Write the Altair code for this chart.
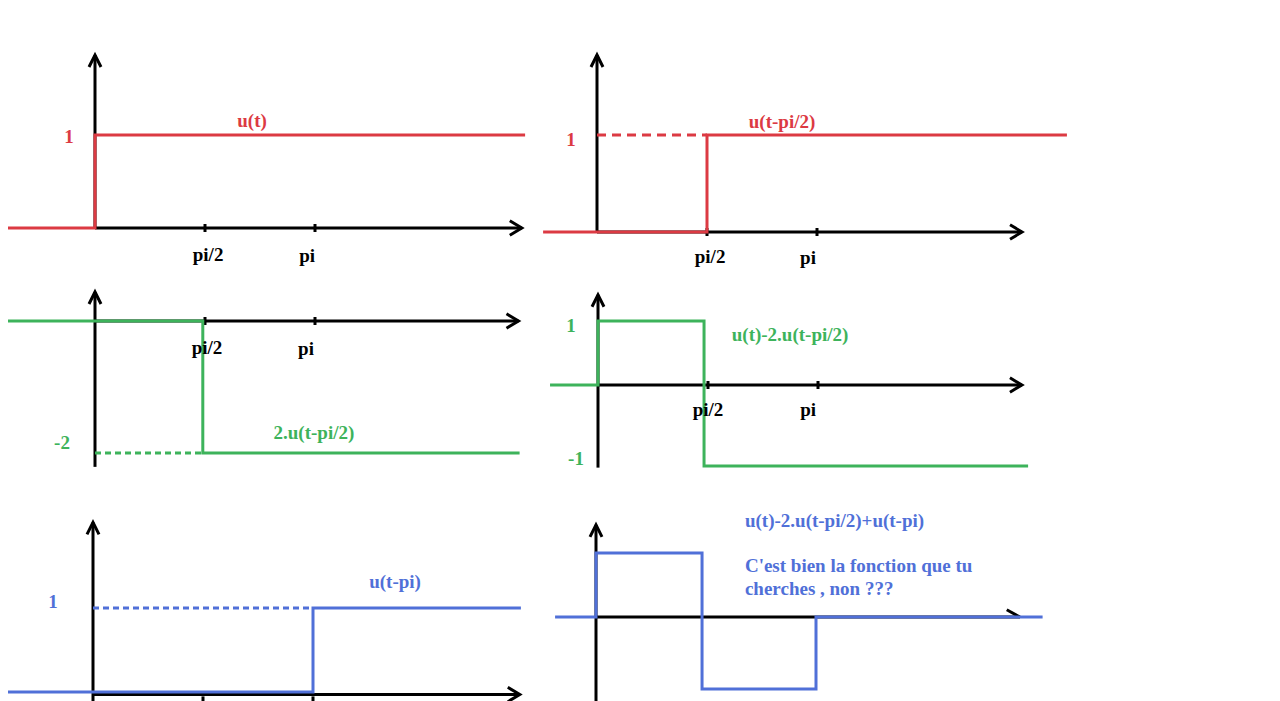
import altair as alt
import pandas as pd

# ---------------- data (t in units of pi, u = signal value) ----------------
RED, GREEN, BLUE, BLACK = "#dc3a43", "#3db35b", "#5070d8", "#000000"

# panel 1 : u(t)
P1_T = [-0.45, 0.0, 0.0, 1.955]
P1_U = [0, 0, 1, 1]
# panel 2 : u(t-pi/2)
P2_T = [-0.245, 0.5, 0.5, 2.136]
P2_U = [0, 0, 1, 1]
P2_DASH_T = [0.0, 0.5]
P2_DASH_U = [1, 1]
# panel 3 : 2.u(t-pi/2) (drawn negative)
P3_T = [-0.45, 0.49, 0.49, 1.93]
P3_U = [0, 0, -2, -2]
P3_DASH_T = [0.0, 0.49]
P3_DASH_U = [-2, -2]
# panel 4 : u(t)-2.u(t-pi/2)
P4_T = [-0.218, 0.0, 0.0, 0.482, 0.482, 1.955]
P4_U = [0, 0, 1, 1, -1, -1]
# panel 5 : u(t-pi)
P5_T = [-0.45, 1.0, 1.0, 1.945]
P5_U = [0, 0, 1, 1]
P5_DASH_T = [0.0, 0.99]
P5_DASH_U = [1, 1]
# panel 6 : u(t)-2.u(t-pi/2)+u(t-pi)
P6_T = [-0.186, 0.0, 0.0, 0.482, 0.482, 1.0, 1.0, 2.03]
P6_U = [0, 0, 1, 1, -1, -1, 0, 0]

TICK_T = [0.5, 1.0]
TICK_LABELS = ["pi/2", "pi"]

# axis extents per panel: (x tip t, y bottom u, y tip u, x-axis u)
AXES = {
    1: (1.94, 0.0, 1.86, 0.0),
    2: (1.932, 0.0, 1.825, 0.0),
    3: (1.925, -2.21, 0.44, 0.0),
    4: (1.927, -1.02, 1.41, 0.0),
    5: (1.94, -0.2, 2.02, -0.03),
    6: (1.927, -1.3, 1.44, 0.0),
}

# ---------------- layout (pixel anchors, not data) ----------------
KX = 220  # px per pi
W_LEFT, W_RIGHT = 532, 700
ROW_H = [267, 215, 211]
# panel: (width, height, x0 px, y0 px, px per unit up, px per unit down)
GEOM = {
    1: (W_LEFT, ROW_H[0], 87, 220, 93, 93),
    2: (W_RIGHT, ROW_H[0], 57, 224, 97, 97),
    3: (W_LEFT, ROW_H[1], 87, 46, 66, 66),
    4: (W_RIGHT, ROW_H[1], 58, 110, 64, 81),
    5: (W_LEFT, ROW_H[2], 85, 202, 84, 84),
    6: (W_RIGHT, ROW_H[2], 56, 127, 64, 72),
}

FONT = "Liberation Serif"
FS = 19
UP_ARROW = "M -0.5 1 L 0 0 L 0.5 1"
RIGHT_ARROW = "M -1 -0.6 L 0 0 L -1 0.6"
HALF_RIGHT_ARROW = "M -1.1 -0.6 L 0 0"
TICK = "M 0 -1 L 0 1"


def scales(p):
    w, h, x0, y0, kup, kdn = GEOM[p]
    xs = alt.Scale(domain=[-x0 / KX, (w - x0) / KX], nice=False, zero=False)
    ys = alt.Scale(domain=[-(h - y0) / kdn, 0, y0 / kup], range=[h, y0, 0],
                   nice=False, zero=False)
    return xs, ys


def enc(xs, ys):
    return dict(x=alt.X("t:Q", scale=xs, axis=None),
                y=alt.Y("u:Q", scale=ys, axis=None))


def line(p, t, u, color, dash=None, width=3):
    xs, ys = scales(p)
    df = pd.DataFrame({"t": t, "u": u, "i": list(range(len(t)))})
    kw = dict(color=color, strokeWidth=width, clip=True)
    if dash:
        kw["strokeDash"] = dash
    return alt.Chart(df).mark_line(**kw).encode(order="i:Q", **enc(xs, ys))


def points(p, t, u, shape, size):
    xs, ys = scales(p)
    df = pd.DataFrame({"t": t, "u": u})
    return alt.Chart(df).mark_point(shape=shape, size=size, filled=False, clip=True,
                                    stroke=BLACK, strokeWidth=3, opacity=1).encode(**enc(xs, ys))


def texts(p, t, u, labels, color, align="center"):
    xs, ys = scales(p)
    df = pd.DataFrame({"t": t, "u": u, "s": labels})
    return alt.Chart(df).mark_text(font=FONT, fontSize=FS, fontWeight="bold", color=color,
                                   align=align, baseline="middle").encode(text="s:N", **enc(xs, ys))


def axes(p, ticks=True, half_arrow=False, tick_u=0.0):
    xt, yb, yt, xu = AXES[p]
    layers = [
        line(p, [0, xt], [xu, xu], BLACK),
        line(p, [0, 0], [yb, yt], BLACK),
        points(p, [0], [yt], UP_ARROW, 576),
        points(p, [xt], [xu], HALF_RIGHT_ARROW if half_arrow else RIGHT_ARROW, 576),
    ]
    if ticks:
        layers.append(points(p, TICK_T, [tick_u, tick_u], TICK, 64))
    return layers


def panel(p, layers):
    w, h = GEOM[p][0], GEOM[p][1]
    return alt.layer(*layers).properties(width=w, height=h)


c1 = panel(1, axes(1) + [
    line(1, P1_T, P1_U, RED),
    texts(1, [0.714], [1.15], ["u(t)"], RED),
    texts(1, [-0.118], [0.98], ["1"], RED),
    texts(1, [0.514, 0.964], [-0.29, -0.30], TICK_LABELS, BLACK),
])

c2 = panel(2, axes(2) + [
    line(2, P2_T, P2_U, RED),
    line(2, P2_DASH_T, P2_DASH_U, RED, dash=[9, 6]),
    texts(2, [0.841], [1.134], ["u(t-pi/2)"], RED),
    texts(2, [-0.118], [0.95], ["1"], RED),
    texts(2, [0.514, 0.959], [-0.258, -0.268], TICK_LABELS, BLACK),
])

c3 = panel(3, axes(3) + [
    line(3, P3_T, P3_U, GREEN),
    line(3, P3_DASH_T, P3_DASH_U, GREEN, dash=[6, 4]),
    texts(3, [0.995], [-1.70], ["2.u(t-pi/2)"], GREEN),
    texts(3, [-0.15], [-1.85], ["-2"], GREEN),
    texts(3, [0.509, 0.959], [-0.41, -0.42], TICK_LABELS, BLACK),
])

c4 = panel(4, axes(4) + [
    line(4, P4_T, P4_U, GREEN),
    texts(4, [0.873], [0.78], ["u(t)-2.u(t-pi/2)"], GREEN),
    texts(4, [-0.123, -0.10], [0.92, -0.91], ["1", "-1"], GREEN),
    texts(4, [0.5, 0.955], [-0.31, -0.31], TICK_LABELS, BLACK),
])

c5 = panel(5, axes(5, tick_u=-0.1) + [
    line(5, P5_T, P5_U, BLUE),
    line(5, P5_DASH_T, P5_DASH_U, BLUE, dash=[6, 4]),
    texts(5, [1.373], [1.31], ["u(t-pi)"], BLUE),
    texts(5, [-0.182], [1.07], ["1"], BLUE),
])

c6 = panel(6, axes(6, ticks=False, half_arrow=True) + [
    line(6, P6_T, P6_U, BLUE),
    texts(6, [0.677, 0.677, 0.677], [1.5, 0.797, 0.4375],
          ["u(t)-2.u(t-pi/2)+u(t-pi)", "C'est bien la fonction que tu", "cherches , non ???"],
          BLUE, align="left"),
])

chart = alt.vconcat(
    alt.hconcat(c1, c2, spacing=0),
    alt.hconcat(c3, c4, spacing=0),
    alt.hconcat(c5, c6, spacing=0),
    spacing=0,
).properties(padding=0, background="white").configure_view(stroke=None).configure_concat(spacing=0)

chart.save("out.html", embed_options={"renderer": "svg", "actions": False})
